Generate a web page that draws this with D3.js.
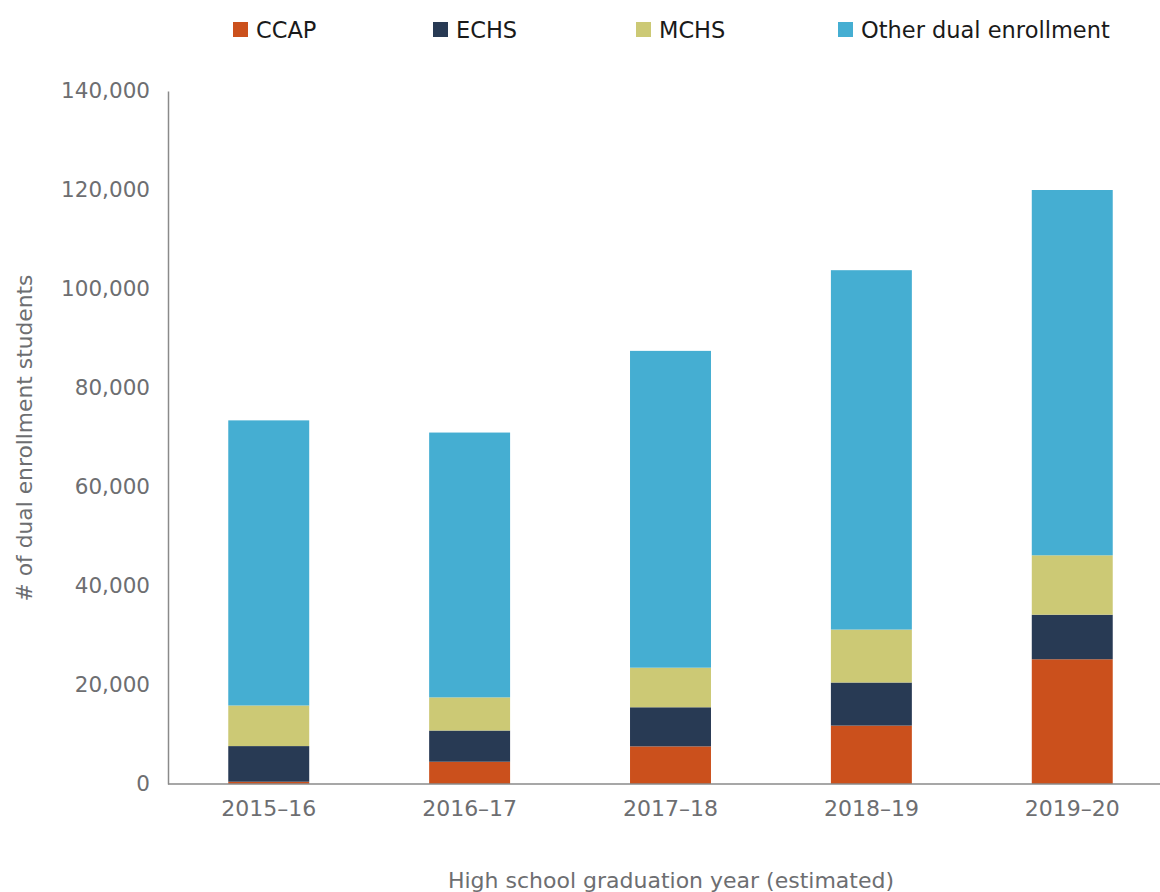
<!DOCTYPE html>
<html><head><meta charset="utf-8">
<script src="https://cdn.jsdelivr.net/npm/d3@7"></script>
<style>
html,body{margin:0;padding:0;background:#fff;}
svg{display:block;}
text{font-family:"DejaVu Sans",sans-serif;}
</style></head>
<body>
<script>
const years = ["2015\u201316","2016\u201317","2017\u201318","2018\u201319","2019\u201320"];
const seriesNames = ["CCAP","ECHS","MCHS","Other dual enrollment"];
const ccap  = [460, 4500, 7600, 11800, 25200];
const echs  = [7200, 6300, 7900, 8700, 9000];
const mchs  = [8200, 6700, 8000, 10700, 12000];
const other = [57600, 53500, 64000, 72600, 73800];
const yTicks = [0,20000,40000,60000,80000,100000,120000,140000];
const colors = ["#CB501C","#283A54","#CCC975","#45AED2"];

const W=1160,H=892;
const svg=d3.select("body").append("svg").attr("width",W).attr("height",H);

const rows = years.map((y,i)=>({year:y,"CCAP":ccap[i],"ECHS":echs[i],"MCHS":mchs[i],"Other dual enrollment":other[i]}));
const stack = d3.stack().keys(seriesNames)(rows);

const x = d3.scaleBand().domain(years).range([168,1173]).paddingInner(0.597).paddingOuter(0.3);
const y = d3.scaleLinear().domain([0,140000]).range([784,91]);

// bars
svg.append("g").selectAll("g").data(stack).join("g")
  .attr("fill",(d,i)=>colors[i])
  .selectAll("rect").data(d=>d).join("rect")
  .attr("x",d=>x(d.data.year))
  .attr("width",x.bandwidth())
  .attr("y",d=>y(d[1]))
  .attr("height",d=>y(d[0])-y(d[1]));

// y axis
const ya = svg.append("g").attr("transform","translate(168,0)")
  .call(d3.axisLeft(y).tickValues(yTicks).tickSize(0).tickPadding(18).tickFormat(d3.format(",")));
ya.select(".domain").attr("stroke","#8a8a8a").attr("stroke-width",1.5);
ya.selectAll("text").attr("font-size",21.5).attr("fill","#6d6e71");

// x axis
const xa = svg.append("g").attr("transform","translate(0,784)")
  .call(d3.axisBottom(x).tickSize(0).tickPadding(16));
xa.select(".domain").attr("d","M168,0H1160").attr("stroke","#8a8a8a").attr("stroke-width",1.5);
xa.selectAll("text").attr("font-size",22).attr("fill","#6d6e71");

// axis titles
svg.append("text").attr("x",671).attr("y",888).attr("text-anchor","middle")
  .attr("font-size",22).attr("fill","#6d6e71").text("High school graduation year (estimated)");
svg.append("text").attr("transform","translate(32,438) rotate(-90)").attr("text-anchor","middle")
  .attr("font-size",21.8).attr("fill","#6d6e71").text("# of dual enrollment students");

// legend
const legX=[233,433,636,838];
const lg = svg.append("g").selectAll("g").data(seriesNames).join("g")
  .attr("transform",(d,i)=>`translate(${legX[i]},0)`);
lg.append("rect").attr("x",0).attr("y",22).attr("width",15).attr("height",15).attr("fill",(d,i)=>colors[i]);
lg.append("text").attr("x",23).attr("y",38).attr("font-size",22.5).attr("fill","#1a1a1a").text(d=>d);
</script>
</body></html>
